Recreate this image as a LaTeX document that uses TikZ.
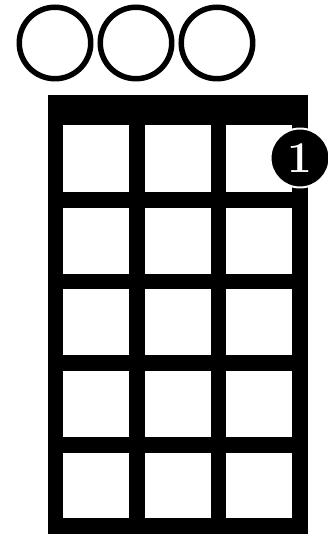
\documentclass[tikz,border=0pt]{standalone}
\usepackage{xcolor}
\usepackage{tikz}
\usetikzlibrary{positioning, calc}
\tikzset{
  % Open string markers
  openstring/.style={
    circle, draw=black, line width=0.11cm, fill=white,
    minimum size=1.43cm, inner sep=0pt
  },
  % Finger position
  fingerdot/.style={
    circle, draw=white, line width=0.04cm, fill=black, text=white,
    minimum size=1.18cm, inner sep=0pt, font=\fontsize{25}{25}\selectfont\bfseries
  },
  % Grid lines
  fretline/.style={line width=0.32cm, color=black},
  stringline/.style={line width=0.31cm, color=black},
}
\begin{document}
\begin{tikzpicture}[x=0.02cm, y=-0.02cm]
  \useasboundingbox[fill=white] (0,0) rectangle (327,536);

  % Nut
  \fill[black] (48,95) rectangle (308,125);

  % Strings
  \foreach \s in {0,...,3}
    \draw[stringline] ({55.5+81.5*\s},95) -- ({55.5+81.5*\s},534);

  % Frets
  \foreach \f in {0,...,4}
    \draw[fretline] (48,{200+81.5*\f}) -- (308,{200+81.5*\f});

  % Open strings
  \node[openstring] (open1) at (55,43) {};
  \node[openstring, right=0.08cm of open1] (open2) {};
  \node[openstring, right=0.08cm of open2] (open3) {};

  % Finger
  \node[fingerdot] (finger1) at (300,158) {1};

\end{tikzpicture}
\end{document}
